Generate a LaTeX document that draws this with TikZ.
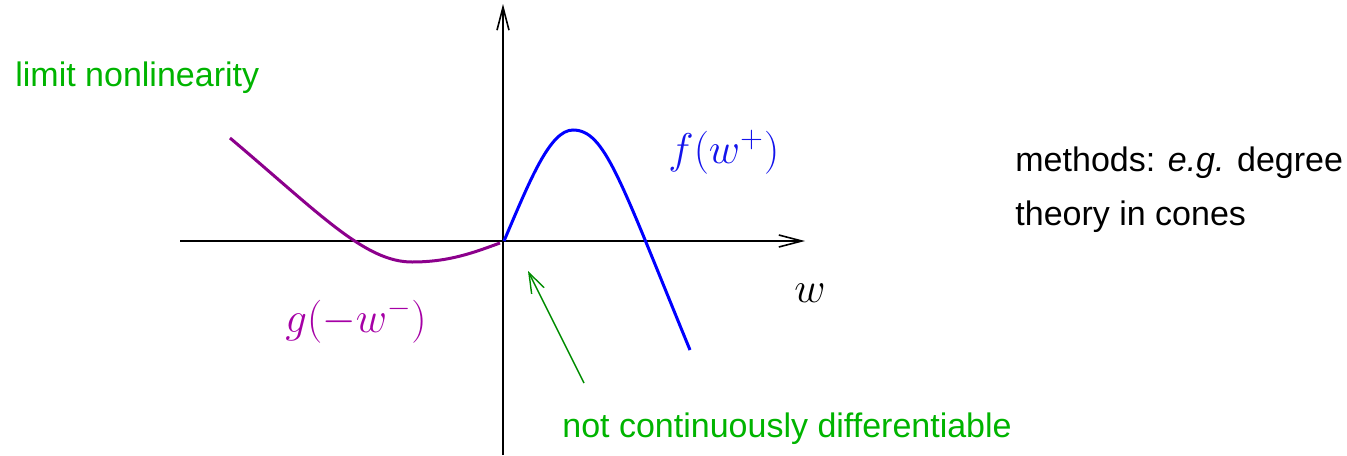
\RequirePackage{fix-cm}
\documentclass[tikz,border=0pt]{standalone}
\usepackage{fontspec}
\newfontfamily\lsans{Liberation Sans}
\usetikzlibrary{arrows.meta}
\definecolor{lgreen}{RGB}{0,180,0}
\definecolor{agreen}{RGB}{0,140,0}
\definecolor{cpurple}{RGB}{140,0,140}
\definecolor{tpurple}{RGB}{165,0,165}
\definecolor{cblue}{RGB}{0,0,255}
\definecolor{tblue}{RGB}{20,20,235}
\tikzset{
  axis/.style={line width=1pt, -{Straight Barb[length=11.5pt,width=6pt,line width=0.8pt]}},
  curve/.style={line width=1.5pt},
  sanstext/.style={inner sep=0pt, anchor=base west, font=\lsans\fontsize{17}{27}\selectfont},
  mathtext/.style={inner sep=0pt, anchor=base west, font=\fontsize{21.5}{26}\selectfont},
  note/.style={agreen, line width=0.7pt, -{Straight Barb[length=10pt,width=7pt,line width=0.7pt]}}
}
\begin{document}
\begin{tikzpicture}[x=0.5pt,y=-0.5pt]
\useasboundingbox (0,0) rectangle (1347,455);
% axes
\coordinate (xs) at (180,241);
\coordinate (xe) at (805,241);
\coordinate (ys) at (503,455);
\coordinate (ye) at (503,4);
\draw[axis] (xs) -- (xe);
\draw[axis] (ys) -- (ye);
% curves
\coordinate (o) at (504,241);
\draw[curve, cblue] (o) .. controls (530,180) and (550,130) .. (573,130)
  .. controls (605,130) and (620,180) .. (690,350);
\draw[curve, cpurple] (230,138) .. controls (320,214) and (365,262) .. (412,262)
  .. controls (450,262) and (475,252) .. (500,243);
% labels
\node[sanstext, lgreen] (lim) at (15,86) {limit nonlinearity};
\node[mathtext, tblue] (f) at (668,163) {$f(w^+)$};
\node[mathtext, tpurple] (g) at (285,332) {$g(-w^-)$};
\node[mathtext] (w) at (794,302) {$w$};
\node[sanstext] (m1) at (1015,171) {methods: \textit{e.g.} degree};
\node[sanstext] (m2) at (1015,225) {theory in cones};
\node[sanstext, lgreen] (ncd) at (562,437) {not continuously differentiable};
% note arrow
\coordinate (ns) at (584,383);
\coordinate (nt) at (528,271);
\draw[note] (ns) -- (nt);
\end{tikzpicture}
\end{document}
